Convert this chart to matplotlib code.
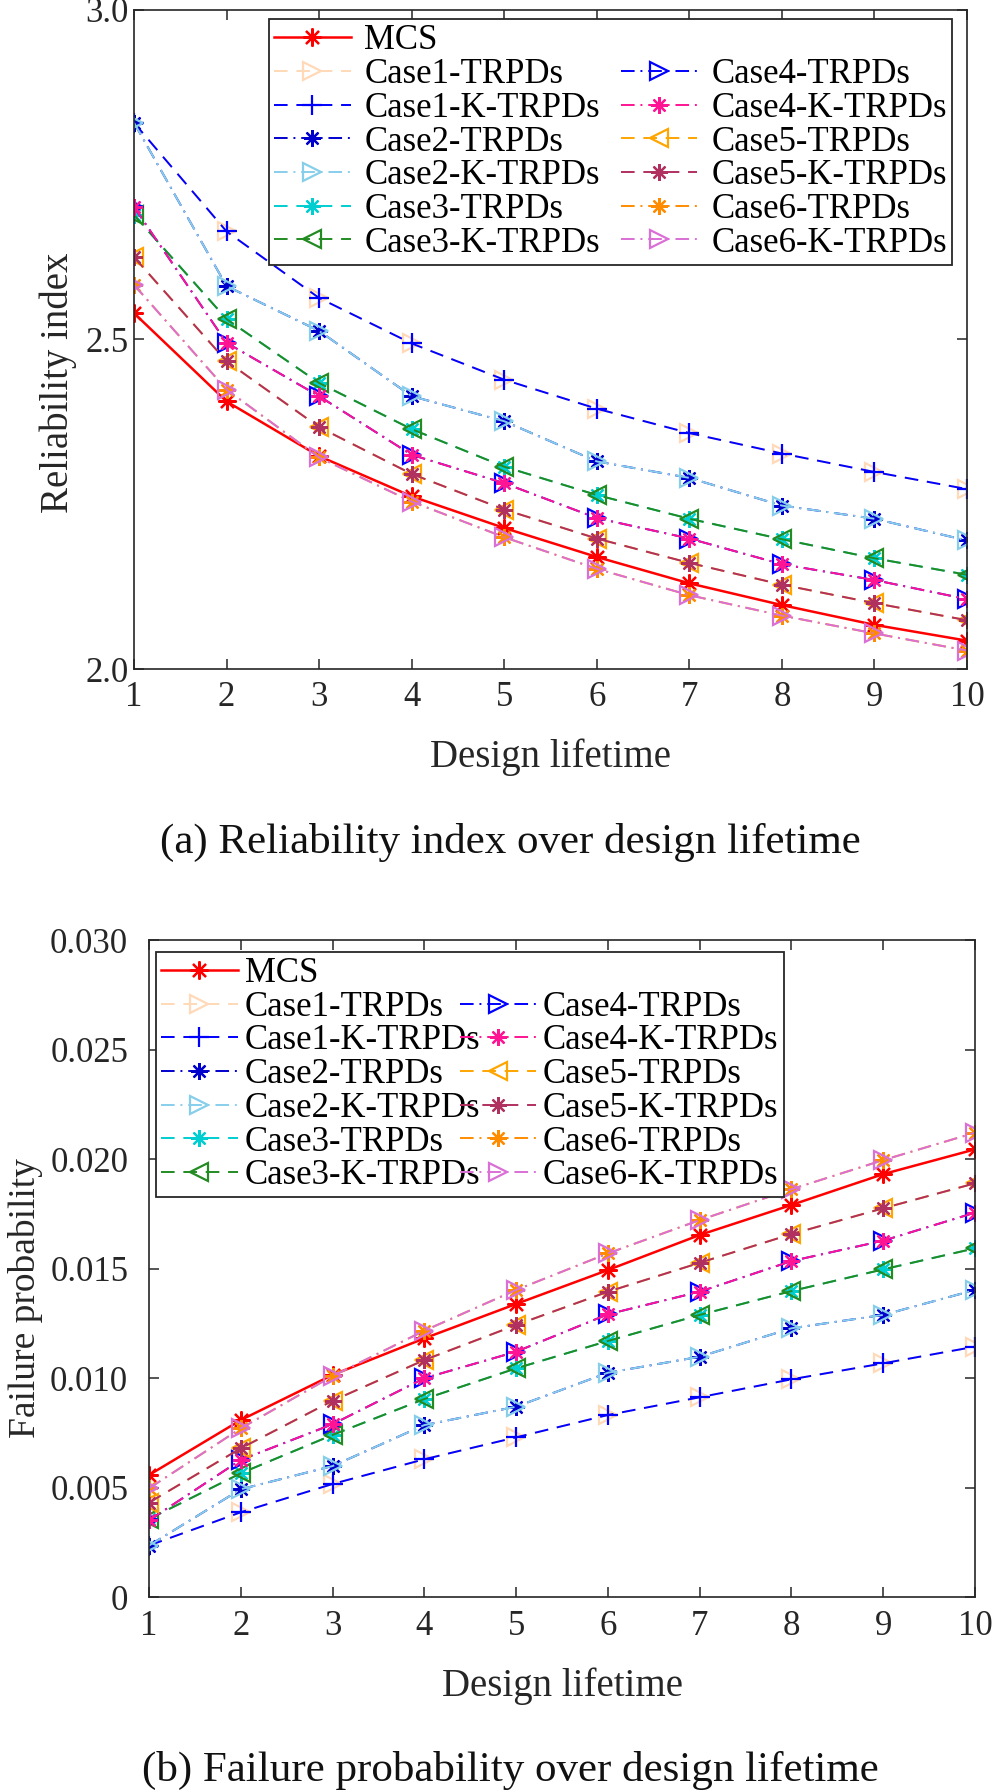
import matplotlib
matplotlib.use("Agg")
import matplotlib.pyplot as plt
from matplotlib.lines import Line2D

plt.rcParams['font.family'] = ['Liberation Serif', 'DejaVu Serif']
plt.rcParams['mathtext.fontset'] = 'stix'

# ---------------- data ----------------
lifetime = [1, 2, 3, 4, 5, 6, 7, 8, 9, 10]

rel_mcs   = [2.540, 2.406, 2.323, 2.262, 2.214, 2.170, 2.130, 2.097, 2.067, 2.043]
rel_case1 = [2.829, 2.664, 2.563, 2.494, 2.439, 2.395, 2.358, 2.327, 2.299, 2.273]
rel_case2 = [2.829, 2.581, 2.513, 2.414, 2.376, 2.315, 2.290, 2.248, 2.228, 2.195]
rel_case3 = [2.689, 2.531, 2.434, 2.364, 2.307, 2.264, 2.228, 2.197, 2.168, 2.143]
rel_case4 = [2.701, 2.495, 2.414, 2.325, 2.282, 2.229, 2.198, 2.159, 2.135, 2.106]
rel_case5 = [2.625, 2.467, 2.367, 2.296, 2.242, 2.198, 2.161, 2.128, 2.100, 2.074]
rel_case6 = [2.583, 2.424, 2.321, 2.254, 2.200, 2.152, 2.112, 2.081, 2.054, 2.028]

fp_mcs   = [0.00557, 0.00808, 0.01014, 0.01181, 0.01338, 0.01493, 0.01653, 0.01790, 0.01931, 0.02044]
fp_case1 = [0.00235, 0.00387, 0.00516, 0.00629, 0.00729, 0.00831, 0.00912, 0.00994, 0.01067, 0.01143]
fp_case2 = [0.00235, 0.00492, 0.00598, 0.00785, 0.00869, 0.01024, 0.01097, 0.01227, 0.01288, 0.01402]
fp_case3 = [0.00356, 0.00565, 0.00740, 0.00904, 0.01044, 0.01169, 0.01288, 0.01397, 0.01496, 0.01592]
fp_case4 = [0.00350, 0.00626, 0.00789, 0.00999, 0.01120, 0.01291, 0.01394, 0.01534, 0.01627, 0.01755]
fp_case5 = [0.00431, 0.00679, 0.00896, 0.01082, 0.01242, 0.01394, 0.01526, 0.01657, 0.01775, 0.01889]
fp_case6 = [0.00496, 0.00770, 0.01009, 0.01216, 0.01402, 0.01569, 0.01721, 0.01862, 0.01995, 0.02120]

labels = ['MCS',
          'Case1-TRPDs', 'Case1-K-TRPDs',
          'Case2-TRPDs', 'Case2-K-TRPDs',
          'Case3-TRPDs', 'Case3-K-TRPDs',
          'Case4-TRPDs', 'Case4-K-TRPDs',
          'Case5-TRPDs', 'Case5-K-TRPDs',
          'Case6-TRPDs', 'Case6-K-TRPDs']

rel_series = [rel_mcs, rel_case1, rel_case1, rel_case2, rel_case2, rel_case3, rel_case3,
              rel_case4, rel_case4, rel_case5, rel_case5, rel_case6, rel_case6]
fp_series = [fp_mcs, fp_case1, fp_case1, fp_case2, fp_case2, fp_case3, fp_case3,
             fp_case4, fp_case4, fp_case5, fp_case5, fp_case6, fp_case6]

# ---------------- styles ----------------
AST = (8, 2, 0)
DASH = (0, (7, 4.5))
DASHDOT = (0, (7, 3, 1, 3))
styles = [
    dict(color='#FF0000', ls='-',     marker=AST, ms=13, hollow=False, lw=1.8),
    dict(color='#FFD9B8', ls=DASH,    marker='>', ms=13, hollow=True,  lw=1.4),
    dict(color='#0000FF', ls=DASH,    marker='+', ms=14, hollow=False, lw=1.4),
    dict(color='#0000CD', ls=DASHDOT, marker=AST, ms=12, hollow=False, lw=1.4),
    dict(color='#87CEEB', ls=DASHDOT, marker='>', ms=13, hollow=True,  lw=1.4),
    dict(color='#00CED1', ls=DASH,    marker=AST, ms=12, hollow=False, lw=1.4),
    dict(color='#228B22', ls=DASH,    marker='<', ms=13, hollow=True,  lw=1.4),
    dict(color='#0000FF', ls=DASHDOT, marker='>', ms=13, hollow=True,  lw=1.4),
    dict(color='#FF1493', ls=DASHDOT, marker=AST, ms=12, hollow=False, lw=1.4),
    dict(color='#FFA500', ls=DASH,    marker='<', ms=13, hollow=True,  lw=1.4),
    dict(color='#B03060', ls=DASH,    marker=AST, ms=12, hollow=False, lw=1.4),
    dict(color='#FF8C00', ls=DASHDOT, marker=AST, ms=12, hollow=False, lw=1.4),
    dict(color='#DA70D6', ls=DASHDOT, marker='>', ms=13, hollow=True,  lw=1.4),
]

fig = plt.figure(figsize=(10, 17.92), dpi=100)
H = 1792.0
ax1 = fig.add_axes([0.134, 1 - 669 / H, 0.833, 659 / H])
ax2 = fig.add_axes([0.149, 1 - 1597 / H, 0.826, 657 / H])


def draw(ax, series):
    handles = []
    for lab, ys, st in zip(labels, series, styles):
        h, = ax.plot(lifetime, ys, color=st['color'], linestyle=st['ls'], lw=st['lw'],
                     marker=st['marker'], ms=st['ms'], mew=1.6,
                     mfc='none' if st['hollow'] else st['color'],
                     mec=st['color'], label=lab)
        handles.append(h)
    return handles


def style_axes(ax, ypad):
    ax.set_xlim(1, 10)
    ax.set_xticks(lifetime)
    for s in ax.spines.values():
        s.set_color('#262626')
        s.set_linewidth(1.2)
    ax.tick_params(direction='in', top=True, right=True, length=7, width=1.1,
                   colors='#262626', labelcolor='#262626', labelsize=25)
    ax.tick_params(axis='x', pad=9)
    ax.tick_params(axis='y', pad=ypad)


def make_legend(ax, handles, bbox, tpad, colsp):
    blank = Line2D([], [], color='none')
    hs = handles[:7] + [blank] + handles[7:]
    ls = labels[:7] + [''] + labels[7:]
    leg = ax.legend(hs, ls, ncol=2, loc='upper left', bbox_to_anchor=bbox,
                    mode='expand', borderaxespad=0, fontsize=25, handlelength=2.2,
                    handletextpad=tpad, columnspacing=colsp, labelspacing=0.02,
                    fancybox=False, framealpha=1, edgecolor='#262626',
                    borderpad=0.15)
    leg.get_frame().set_linewidth(1.3)
    return leg


h1 = draw(ax1, rel_series)
style_axes(ax1, 4)
ax1.set_ylim(2.0, 3.0)
ax1.set_yticks([2.0, 2.5, 3.0])
ax1.set_yticklabels(['2.0', '2.5', '3.0'])
ax1.set_xlabel('Design lifetime', fontsize=28, color='#262626')
ax1.xaxis.set_label_coords(0.5, -0.105)
ax1.set_ylabel('Reliability index', fontsize=28, color='#262626')
ax1.yaxis.set_label_coords(-0.068, 0.435)
make_legend(ax1, h1, (0.162, 0.631, 0.82, 0.355), 0.4, 0.6)

h2 = draw(ax2, fp_series)
style_axes(ax2, 15)
ax2.set_ylim(0, 0.030)
yt = [0, 0.005, 0.010, 0.015, 0.020, 0.025, 0.030]
ax2.set_yticks(yt)
ax2.set_yticklabels(['0'] + ['%.3f' % v for v in yt[1:]])
ax2.set_xlabel('Design lifetime', fontsize=28, color='#262626')
ax2.xaxis.set_label_coords(0.5, -0.1065)
ax2.set_ylabel('Failure probability', fontsize=27, color='#262626')
ax2.yaxis.set_label_coords(-0.128, 0.455)
make_legend(ax2, h2, (0.0085, 0.626, 0.76, 0.356), 0.2, 0.2)

fig.text(0.51, 1 - 842 / H, '(a) Reliability index over design lifetime',
         ha='center', va='center', fontsize=31, color='#111111')
fig.text(0.51, 1 - 1770 / H, '(b) Failure probability over design lifetime',
         ha='center', va='center', fontsize=31, color='#111111')

fig.savefig('out.png', dpi=100)
